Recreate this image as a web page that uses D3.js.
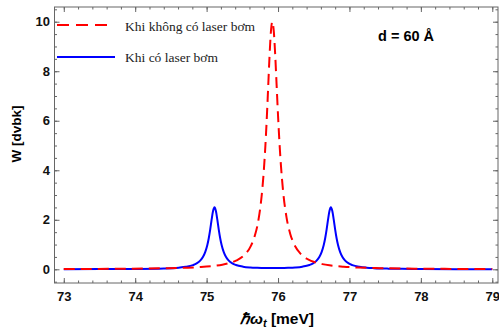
<!DOCTYPE html>
<html lang="vi">
<head>
    <meta charset="utf-8">
    <style>
        body { margin: 0; background: #fff; }
        svg { display: block; }
        .tick text { font-family: "Liberation Sans", Arial, sans-serif; font-weight: bold; font-size: 13px; fill: #111; }
        .tick line { stroke: #666; }
        .domain { display: none; }
        .legend text { font-family: "Liberation Serif", "Times New Roman", serif; font-size: 13.5px; fill: #222; }
    </style>
    <script src="https://d3js.org/d3.v7.min.js"></script>
</head>
<body>
    <svg width="499" height="332"></svg>
    <script>
        // data
        var redX = [73.00, 73.42, 73.92, 74.42, 74.72, 74.92, 75.12, 75.22, 75.32, 75.42, 75.52, 75.62,
                    75.67, 75.72, 75.77, 75.80, 75.82, 75.84, 75.86, 75.88, 75.90, 75.92,
                    75.94, 75.96, 75.98, 76.00, 76.02, 76.04, 76.07, 76.12, 76.17, 76.22, 76.32,
                    76.42, 76.52, 76.62, 76.72, 76.92, 77.12, 77.42, 77.92, 78.42, 79.00];
        var redY = [0.011, 0.015, 0.023, 0.042, 0.065, 0.093, 0.145, 0.188, 0.254, 0.362, 0.555, 0.946,
                    1.31, 1.90, 2.95, 3.95, 4.85, 5.95, 7.23, 8.55, 9.59, 10.0,
                    9.63, 8.68, 7.45, 6.21, 5.12, 4.22, 3.18, 2.08, 1.44, 1.045, 0.616,
                    0.403, 0.283, 0.210, 0.161, 0.104, 0.072, 0.046, 0.026, 0.017, 0.011];

        var blueX = [73.00, 73.50, 74.00, 74.40, 74.61, 74.71, 74.81, 74.86, 74.91, 74.95, 74.98,
                     75.01, 75.03, 75.05, 75.07, 75.09, 75.11, 75.13, 75.15, 75.17, 75.19, 75.21,
                     75.24, 75.27, 75.31, 75.36, 75.41, 75.51, 75.61, 75.71, 75.81, 75.925,
                     76.04, 76.14, 76.24, 76.34, 76.44, 76.49, 76.54, 76.58, 76.61, 76.64,
                     76.66, 76.68, 76.70, 76.72, 76.74, 76.76, 76.78, 76.80, 76.82, 76.84,
                     76.87, 76.90, 76.94, 76.99, 77.04, 77.14, 77.24, 77.34, 77.54, 77.74,
                     78.00, 78.50, 79.00];
        var blueY = [0.005, 0.008, 0.015, 0.034, 0.066, 0.100, 0.170, 0.236, 0.349, 0.504, 0.691,
                     0.980, 1.254, 1.604, 2.004, 2.354, 2.506, 2.356, 2.006, 1.606, 1.256, 0.982,
                     0.694, 0.508, 0.353, 0.240, 0.175, 0.107, 0.075, 0.059, 0.050, 0.048,
                     0.050, 0.059, 0.075, 0.107, 0.175, 0.240, 0.353, 0.508, 0.694, 0.982,
                     1.256, 1.606, 2.006, 2.356, 2.506, 2.354, 2.004, 1.604, 1.254, 0.980,
                     0.691, 0.504, 0.349, 0.236, 0.170, 0.100, 0.066, 0.047, 0.027, 0.018,
                     0.012, 0.007, 0.004];

        var xTicks = [73, 74, 75, 76, 77, 78, 79];
        var yTicks = [0, 2, 4, 6, 8, 10];
        var seriesNames = ["Khi không có laser bơm", "Khi có laser bơm"];

        var svg = d3.select("svg"),
            pL = 54.5, pR = 498, pT = 7, pB = 283;

        var x = d3.scaleLinear().domain([72.87, 79.08]).range([pL, pR]);
        var y = d3.scaleLinear().domain([-0.553, 10.594]).range([pB, pT]);

        var xMinor = d3.range(72.8, 79.1, 0.2).filter(function(v) { return v >= 72.87 && v <= 79.08; });
        var yMinor = d3.range(-0.5, 10.6, 0.5);

        // frame
        svg.append("rect")
            .attr("x", pL).attr("y", pT)
            .attr("width", pR - pL).attr("height", pB - pT)
            .attr("fill", "none").attr("stroke", "#666").attr("stroke-width", 1);

        // minor ticks, all four sides
        svg.append("g").attr("transform", "translate(0," + pB + ")")
            .call(d3.axisBottom(x).tickValues(xMinor).tickSize(-2.5).tickFormat(""));
        svg.append("g").attr("transform", "translate(0," + pT + ")")
            .call(d3.axisTop(x).tickValues(xMinor).tickSize(-2.5).tickFormat(""));
        svg.append("g").attr("transform", "translate(" + pL + ",0)")
            .call(d3.axisLeft(y).tickValues(yMinor).tickSize(-2.5).tickFormat(""));
        svg.append("g").attr("transform", "translate(" + pR + ",0)")
            .call(d3.axisRight(y).tickValues(yMinor).tickSize(-2.5).tickFormat(""));

        // major ticks
        svg.append("g").attr("transform", "translate(0," + pB + ")")
            .call(d3.axisBottom(x).tickValues(xTicks).tickSize(-5).tickPadding(9).tickFormat(d3.format("d")));
        svg.append("g").attr("transform", "translate(0," + pT + ")")
            .call(d3.axisTop(x).tickValues(xTicks).tickSize(-5).tickFormat(""));
        svg.append("g").attr("transform", "translate(" + pL + ",0)")
            .call(d3.axisLeft(y).tickValues(yTicks).tickSize(-5).tickPadding(4.5).tickFormat(d3.format("d")));
        svg.append("g").attr("transform", "translate(" + pR + ",0)")
            .call(d3.axisRight(y).tickValues(yTicks).tickSize(-5).tickFormat(""));

        // curves
        var line = d3.line()
            .x(function(d) { return x(d[0]); })
            .y(function(d) { return y(d[1]); })
            .curve(d3.curveMonotoneX);

        svg.append("path")
            .datum(d3.zip(blueX, blueY))
            .attr("d", line)
            .attr("fill", "none").attr("stroke", "#0000ff").attr("stroke-width", 2);

        svg.append("path")
            .datum(d3.zip(redX, redY))
            .attr("d", line)
            .attr("fill", "none").attr("stroke", "#ff0000").attr("stroke-width", 2)
            .attr("stroke-dasharray", "11,6");

        // legend
        var lg = svg.append("g").attr("class", "legend");
        lg.append("line").attr("x1", 57).attr("x2", 112).attr("y1", 25).attr("y2", 25)
            .attr("stroke", "#ff0000").attr("stroke-width", 2).attr("stroke-dasharray", "12,7");
        lg.append("text").attr("x", 125).attr("y", 31).text(seriesNames[0]);
        lg.append("line").attr("x1", 57).attr("x2", 115).attr("y1", 57).attr("y2", 57)
            .attr("stroke", "#0000ff").attr("stroke-width", 2);
        lg.append("text").attr("x", 125).attr("y", 61.5).text(seriesNames[1]);

        svg.append("text")
            .attr("x", 378).attr("y", 40.5)
            .attr("font-family", "Liberation Sans, Arial, sans-serif")
            .attr("font-weight", "bold").attr("font-size", "14.5px")
            .text("d = 60 Å");

        // axis titles
        svg.append("text")
            .attr("transform", "translate(21,134) rotate(-90)")
            .attr("text-anchor", "middle")
            .attr("font-family", "Liberation Sans, Arial, sans-serif")
            .attr("font-weight", "bold").attr("font-size", "13.5px")
            .text("W [dvbk]");

        var xt = svg.append("text")
            .attr("x", 277).attr("y", 323.5)
            .attr("text-anchor", "middle")
            .attr("font-family", "Liberation Sans, Arial, sans-serif")
            .attr("font-weight", "bold").attr("font-size", "15.5px");
        xt.append("tspan").attr("font-style", "italic").text("ℏω");
        xt.append("tspan").attr("font-style", "italic").attr("font-size", "11px").attr("dy", 3).text("t");
        xt.append("tspan").attr("dy", -3).text(" [meV]");
    </script>
</body>
</html>
